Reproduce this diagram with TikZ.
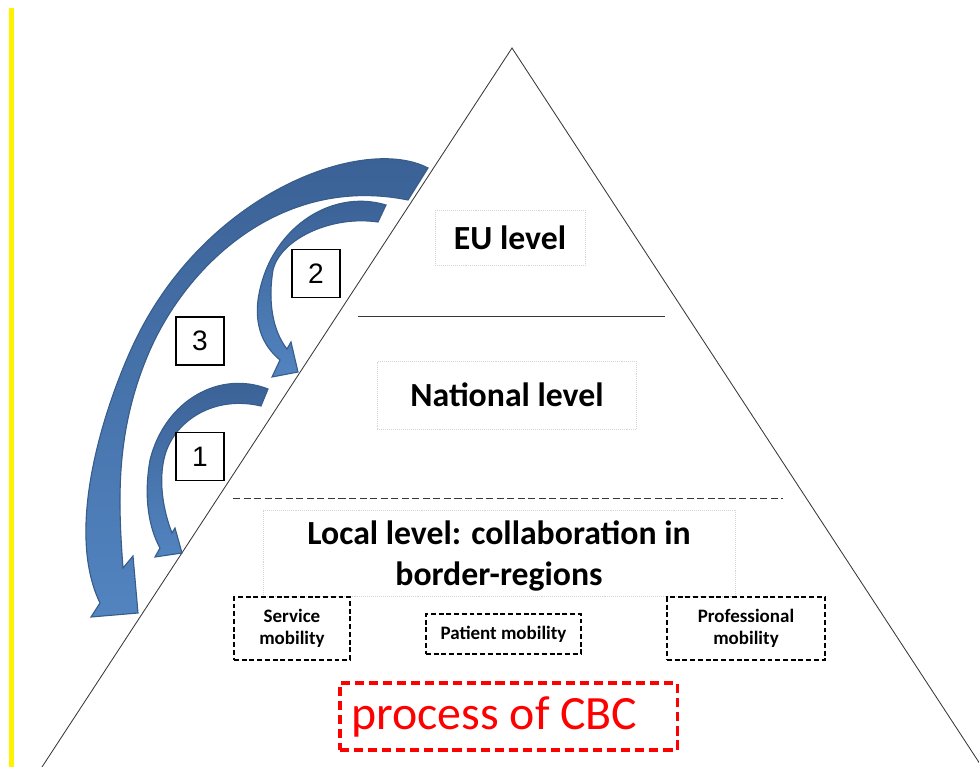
\documentclass[tikz,border=0pt]{standalone}
\usepackage{fontspec}
\setmainfont{Carlito}
\newfontfamily\arialfont{Liberation Sans}
\usetikzlibrary{positioning}
\definecolor{arrowdark}{RGB}{58,96,148}
\definecolor{arrowlight}{RGB}{82,132,192}
\definecolor{arrowedge}{RGB}{56,93,138}
\definecolor{boxgray}{RGB}{212,212,212}
\definecolor{pyrline}{RGB}{55,55,55}
\begin{document}
\begin{tikzpicture}[x=0.025cm,y=-0.025cm,
  lvlbox/.style={draw=boxgray,densely dotted,line width=0.4pt,align=center,inner sep=0pt,
    font=\bfseries\fontsize{24}{29}\selectfont},
  mobbox/.style={draw,dash pattern=on 3.5pt off 2pt,line width=0.8pt,align=center,inner sep=0pt,
    font=\bfseries\fontsize{13.5}{16}\selectfont},
  numbox/.style={draw,line width=0.8pt,minimum size=1.2cm,inner sep=0pt,
    font=\arialfont\fontsize{20}{24}\selectfont},
  bigarrow/.style={top color=arrowdark,bottom color=arrowlight,draw=arrowedge,line width=0.8pt}]
\useasboundingbox (0,0) rectangle (979,767);

% Yellow margin line
\draw[yellow,line width=3.5pt] (11.5,8) -- (11.5,767);

% Pyramid
\coordinate (apex) at (512,48);
\draw[pyrline,line width=0.6pt] (42,767) -- (apex) -- (982,767);
\draw[pyrline,line width=0.7pt] (358,316) -- (665,316);
\draw[pyrline,line width=0.7pt,dash pattern=on 5pt off 2.5pt] (233,498) -- (783,498);

% Levels
\node[lvlbox,minimum width=3.75cm,minimum height=1.375cm] (eu) at (510,238) {EU level};
\node[lvlbox,minimum width=6.475cm,minimum height=1.7cm] (nat) at (507,395) {National level};
\node[lvlbox,minimum width=11.8cm,minimum height=2.15cm,text depth=0pt] (loc) at (499,553)
  {Local level: collaboration in\\border-regions};

% Kinds of mobility
\node[mobbox,minimum width=2.9cm,minimum height=1.575cm] (serv) at (292,628.5) {Service\\mobility};
\node[mobbox,minimum width=3.875cm,minimum height=1cm] (pat) at (503.5,634) {Patient mobility};
\node[mobbox,minimum width=3.95cm,minimum height=1.575cm] (prof) at (746,628.5) {Professional\\mobility};

% Process
\node[draw=red,text=red,line width=2.2pt,dash pattern=on 6.5pt off 3.5pt,
  minimum width=8.425cm,minimum height=1.675cm,inner sep=0pt,
  font=\fontsize{34}{38}\selectfont] (cbc) at (508.5,716.5) {process of CBC\kern0.7cm};

% Curved arrows
\shade[bigarrow] (428,168) .. controls (365,135) and (210,190) .. (137,337)
  .. controls (115.5,380) and (60,520) .. (100,603)
  -- (91,617) -- (138,613) -- (133,556) -- (123,568)
  .. controls (118,500) and (115,430) .. (150,350)
  .. controls (190,260) and (285,175) .. (408,200) -- cycle;
\shade[bigarrow] (386,205) .. controls (330,188) and (268,230) .. (258,300)
  .. controls (255,325) and (262,345) .. (280,360)
  -- (272,377) -- (298,372) -- (291,342) -- (287,349)
  .. controls (272,330) and (268,300) .. (273,270)
  .. controls (280,240) and (330,215) .. (378,222) -- cycle;
\shade[bigarrow] (268,389) .. controls (220,370) and (165,400) .. (150,460)
  .. controls (143,500) and (150,530) .. (160,548)
  -- (155,557) -- (182,553) -- (175,528) -- (172,533)
  .. controls (163,510) and (158,480) .. (165,455)
  .. controls (175,420) and (215,395) .. (261,406) -- cycle;

% Step numbers
\node[numbox,fill=white] (n1) at (200,456.5) {1};
\node[numbox,fill=white] (n2) at (316,273.5) {2};
\node[numbox,fill=white] (n3) at (200,341) {3};
\end{tikzpicture}
\end{document}
